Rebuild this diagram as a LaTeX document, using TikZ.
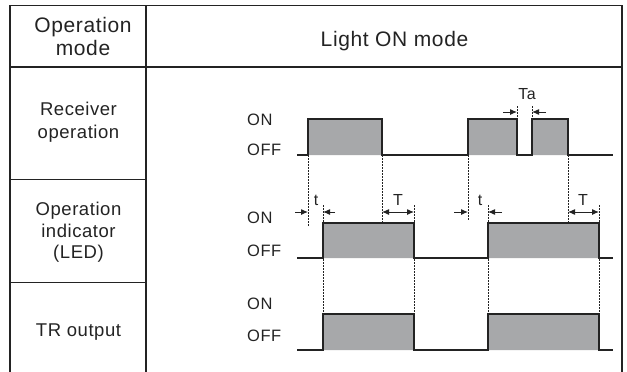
\documentclass[tikz,border=0pt]{standalone}
\usepackage{fontspec}
\setmainfont[LetterSpace=3]{Liberation Sans}
\usetikzlibrary{arrows.meta}
\definecolor{fillgray}{RGB}{167,168,170}
\definecolor{ink}{RGB}{35,35,35}
\begin{document}
\begin{tikzpicture}[x=1pt,y=-1pt,
  tbl/.style={draw=ink,line width=1.3pt},
  wave/.style={draw=ink,line width=1.2pt,line join=miter},
  dots/.style={draw=ink,line width=0.9pt,dash pattern=on 1.6pt off 1.4pt},
  arr/.style={draw=ink,line width=1pt,-{Latex[length=7pt,width=6pt]}},
  darr/.style={draw=ink,line width=1pt,{Latex[length=7pt,width=6pt]}-{Latex[length=7pt,width=6pt]}},
  hdr/.style={anchor=base,inner sep=0pt,text=ink,font=\fontsize{21}{24}\selectfont},
  lbl/.style={anchor=base,inner sep=0pt,text=ink,font=\fontsize{18.5}{21}\selectfont},
  sig/.style={anchor=base west,inner sep=0pt,text=ink,font=\fontsize{16.5}{19}\selectfont},
  tm/.style={anchor=base,inner sep=0pt,text=ink,font=\fontsize{16}{19}\selectfont}]
\useasboundingbox (0,0) rectangle (627,372);
% table
\draw[tbl] (10,372) -- (10,5.5) -- (622,5.5) -- (622,372);
\draw[tbl] (146,5.5) -- (146,372);
\draw[tbl] (10,67) -- (622,67);
\draw[tbl] (10,179.5) -- (146,179.5);
\draw[tbl] (10,282.5) -- (146,282.5);
% header
\node[hdr] (h1) at (83,32) {Operation};
\node[hdr] (h2) at (83,55) {mode};
\node[hdr] (h3) at (394.5,46.7) {Light ON mode};
% row labels
\node[lbl] (r1a) at (78.5,115) {Receiver};
\node[lbl] (r1b) at (78.5,138) {operation};
\node[lbl] (r2a) at (78.5,215) {Operation};
\node[lbl] (r2b) at (78.5,237) {indicator};
\node[lbl] (r2c) at (78.5,258) {(LED)};
\node[lbl] (r3a) at (78.5,336) {TR output};
% ON/OFF labels
\node[sig] (on1) at (247,125) {ON};
\node[sig] (off1) at (247,155) {OFF};
\node[sig] (on2) at (247,223) {ON};
\node[sig] (off2) at (247,256) {OFF};
\node[sig] (on3) at (247,309) {ON};
\node[sig] (off3) at (247,341) {OFF};
% fills
\fill[fillgray] (308,119) rectangle (382,155) (468,119) rectangle (517,155) (532,119) rectangle (568,155);
\fill[fillgray] (323,223) rectangle (414,258) (488,223) rectangle (599,258);
\fill[fillgray] (323,314) rectangle (414,350) (488,314) rectangle (599,350);
% dotted guides
\draw[dots] (308,155) -- (308,226);
\draw[dots] (382,155) -- (382,222);
\draw[dots] (468,155) -- (468,220);
\draw[dots] (568,155) -- (568,222);
\draw[dots] (323,205) -- (323,314);
\draw[dots] (414,205) -- (414,314);
\draw[dots] (488,205) -- (488,314);
\draw[dots] (599,205) -- (599,314);
\draw[dots] (517,106) -- (517,119);
\draw[dots] (532,106) -- (532,119);
% waveforms
\draw[wave] (297,155) -- (308,155) -- (308,119) -- (382,119) -- (382,155) -- (468,155) -- (468,119) -- (517,119) -- (517,155) -- (532,155) -- (532,119) -- (568,119) -- (568,155) -- (613,155);
\draw[wave] (297,258) -- (323,258) -- (323,223) -- (414,223) -- (414,258) -- (488,258) -- (488,223) -- (599,223) -- (599,258) -- (613,258);
\draw[wave] (297,350) -- (323,350) -- (323,314) -- (414,314) -- (414,350) -- (488,350) -- (488,314) -- (599,314) -- (599,350) -- (613,350);
% timing arrows
\coordinate (ta1) at (503,112); \coordinate (ta2) at (517,112);
\coordinate (ta3) at (546,112); \coordinate (ta4) at (532,112);
\draw[arr] (ta1) -- (ta2);
\draw[arr] (ta3) -- (ta4);
\node[tm] (Ta) at (527,99) {Ta};
\coordinate (a1) at (295,212); \coordinate (a2) at (308,212);
\coordinate (a3) at (335,212); \coordinate (a4) at (323,212);
\draw[arr] (a1) -- (a2);
\draw[arr] (a3) -- (a4);
\node[tm] (t1) at (316,205) {t};
\coordinate (b1) at (382,212); \coordinate (b2) at (414,212);
\draw[darr] (b1) -- (b2);
\node[tm] (T1) at (398,205) {T};
\coordinate (c1) at (454,212); \coordinate (c2) at (468,212);
\coordinate (c3) at (502,212); \coordinate (c4) at (488,212);
\draw[arr] (c1) -- (c2);
\draw[arr] (c3) -- (c4);
\node[tm] (t2) at (480,205) {t};
\coordinate (d1) at (568,212); \coordinate (d2) at (599,212);
\draw[darr] (d1) -- (d2);
\node[tm] (T2) at (583,205) {T};
\end{tikzpicture}
\end{document}
